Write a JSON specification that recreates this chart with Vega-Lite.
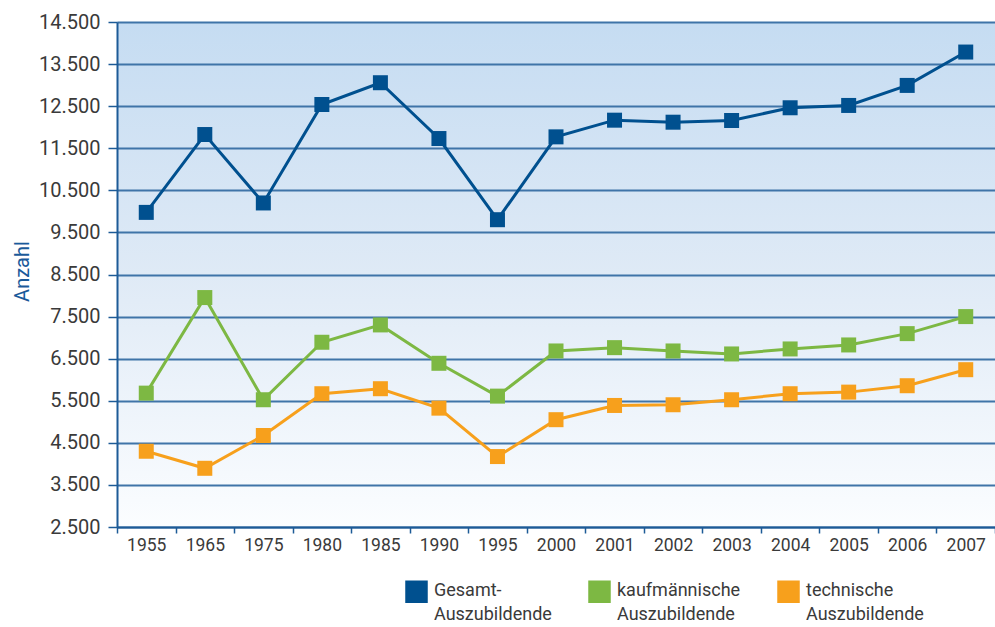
{
  "$schema": "https://vega.github.io/schema/vega-lite/v6.json",
  "width": 878,
  "height": 505,
  "autosize": {"type": "none"},
  "padding": {"left": 117, "top": 22, "right": 0, "bottom": 100},
  "background": "white",
  "config": {
    "font": "Roboto",
    "view": {
      "stroke": null,
      "fill": {"gradient": "linear", "x1": 0, "y1": 0, "x2": 0, "y2": 1,
        "stops": [{"offset": 0, "color": "#c5dcf2"}, {"offset": 0.5, "color": "#dfeaf6"}, {"offset": 1, "color": "#fbfdff"}]}
    },
    "axis": {
      "domainColor": "#1d5b97",
      "domainWidth": 2,
      "tickColor": "#1d5b97",
      "tickWidth": 1.5,
      "labelColor": "#3a3a3a",
      "labelFont": "Roboto",
      "labelFontWeight": "normal"
    }
  },
  "data": {
    "values": [
      {"Jahr": "1955", "Reihe": "Gesamt-Auszubildende", "Anzahl": 9976},
      {"Jahr": "1965", "Reihe": "Gesamt-Auszubildende", "Anzahl": 11826},
      {"Jahr": "1975", "Reihe": "Gesamt-Auszubildende", "Anzahl": 10200},
      {"Jahr": "1980", "Reihe": "Gesamt-Auszubildende", "Anzahl": 12540},
      {"Jahr": "1985", "Reihe": "Gesamt-Auszubildende", "Anzahl": 13057},
      {"Jahr": "1990", "Reihe": "Gesamt-Auszubildende", "Anzahl": 11731},
      {"Jahr": "1995", "Reihe": "Gesamt-Auszubildende", "Anzahl": 9802},
      {"Jahr": "2000", "Reihe": "Gesamt-Auszubildende", "Anzahl": 11771},
      {"Jahr": "2001", "Reihe": "Gesamt-Auszubildende", "Anzahl": 12167},
      {"Jahr": "2002", "Reihe": "Gesamt-Auszubildende", "Anzahl": 12119},
      {"Jahr": "2003", "Reihe": "Gesamt-Auszubildende", "Anzahl": 12160},
      {"Jahr": "2004", "Reihe": "Gesamt-Auszubildende", "Anzahl": 12462},
      {"Jahr": "2005", "Reihe": "Gesamt-Auszubildende", "Anzahl": 12517},
      {"Jahr": "2006", "Reihe": "Gesamt-Auszubildende", "Anzahl": 12993},
      {"Jahr": "2007", "Reihe": "Gesamt-Auszubildende", "Anzahl": 13786},
      {"Jahr": "1955", "Reihe": "kaufmännische Auszubildende", "Anzahl": 5681},
      {"Jahr": "1965", "Reihe": "kaufmännische Auszubildende", "Anzahl": 7952},
      {"Jahr": "1975", "Reihe": "kaufmännische Auszubildende", "Anzahl": 5524},
      {"Jahr": "1980", "Reihe": "kaufmännische Auszubildende", "Anzahl": 6890},
      {"Jahr": "1985", "Reihe": "kaufmännische Auszubildende", "Anzahl": 7302},
      {"Jahr": "1990", "Reihe": "kaufmännische Auszubildende", "Anzahl": 6390},
      {"Jahr": "1995", "Reihe": "kaufmännische Auszubildende", "Anzahl": 5610},
      {"Jahr": "2000", "Reihe": "kaufmännische Auszubildende", "Anzahl": 6683},
      {"Jahr": "2001", "Reihe": "kaufmännische Auszubildende", "Anzahl": 6762},
      {"Jahr": "2002", "Reihe": "kaufmännische Auszubildende", "Anzahl": 6683},
      {"Jahr": "2003", "Reihe": "kaufmännische Auszubildende", "Anzahl": 6612},
      {"Jahr": "2004", "Reihe": "kaufmännische Auszubildende", "Anzahl": 6731},
      {"Jahr": "2005", "Reihe": "kaufmännische Auszubildende", "Anzahl": 6826},
      {"Jahr": "2006", "Reihe": "kaufmännische Auszubildende", "Anzahl": 7095},
      {"Jahr": "2007", "Reihe": "kaufmännische Auszubildende", "Anzahl": 7500},
      {"Jahr": "1955", "Reihe": "technische Auszubildende", "Anzahl": 4300},
      {"Jahr": "1965", "Reihe": "technische Auszubildende", "Anzahl": 3895},
      {"Jahr": "1975", "Reihe": "technische Auszubildende", "Anzahl": 4674},
      {"Jahr": "1980", "Reihe": "technische Auszubildende", "Anzahl": 5667},
      {"Jahr": "1985", "Reihe": "technische Auszubildende", "Anzahl": 5786},
      {"Jahr": "1990", "Reihe": "technische Auszubildende", "Anzahl": 5324},
      {"Jahr": "1995", "Reihe": "technische Auszubildende", "Anzahl": 4174},
      {"Jahr": "2000", "Reihe": "technische Auszubildende", "Anzahl": 5050},
      {"Jahr": "2001", "Reihe": "technische Auszubildende", "Anzahl": 5388},
      {"Jahr": "2002", "Reihe": "technische Auszubildende", "Anzahl": 5405},
      {"Jahr": "2003", "Reihe": "technische Auszubildende", "Anzahl": 5524},
      {"Jahr": "2004", "Reihe": "technische Auszubildende", "Anzahl": 5667},
      {"Jahr": "2005", "Reihe": "technische Auszubildende", "Anzahl": 5705},
      {"Jahr": "2006", "Reihe": "technische Auszubildende", "Anzahl": 5857},
      {"Jahr": "2007", "Reihe": "technische Auszubildende", "Anzahl": 6238}
    ]
  },
  "encoding": {
    "x": {
      "field": "Jahr", "type": "ordinal",
      "scale": {"type": "band", "paddingInner": 0, "paddingOuter": 0},
      "axis": {
        "title": null, "tickBand": "extent", "labelAngle": 0,
        "labelFontSize": 17.5, "tickSize": 6, "labelPadding": 3,
        "grid": false
      }
    },
    "y": {
      "field": "Anzahl", "type": "quantitative",
      "scale": {"domain": [2500, 14500], "nice": false, "zero": false},
      "axis": {
        "title": "Anzahl",
        "titleColor": "#1a5a9a", "titleFontSize": 20, "titleFontWeight": "normal", "titleFont": "Roboto",
        "titleX": -95, "titleY": 249, "titleBaseline": "middle", "titleAngle": -90, "titleAlign": "center",
        "values": [2500, 3500, 4500, 5500, 6500, 7500, 8500, 9500, 10500, 11500, 12500, 13500, 14500],
        "labelExpr": "replace(format(datum.value, ','), ',', '.')",
        "labelFontSize": 20, "tickSize": 9, "labelPadding": 8,
        "grid": true, "gridColor": "#3f74a8", "gridWidth": 1.8, "gridOpacity": 1
      }
    },
    "color": {
      "field": "Reihe", "type": "nominal",
      "scale": {
        "domain": ["Gesamt-Auszubildende", "kaufmännische Auszubildende", "technische Auszubildende"],
        "range": ["#00508f", "#7db843", "#f7a01c"]
      },
      "legend": {
        "orient": "none", "legendX": 288, "legendY": 558,
        "direction": "horizontal", "columns": 3, "columnPadding": 34,
        "title": null, "padding": 0,
        "symbolType": "square", "symbolSize": 441, "symbolStrokeWidth": 1.5, "symbolStrokeColor": "#1a1a1a",
        "symbolOpacity": 1,
        "labelFont": "Roboto",
        "labelFontSize": 18, "labelColor": "#3a3a3a", "labelOffset": 6, "labelLimit": 0,
        "labelBaseline": "top",
        "labelExpr": "datum.label == 'Gesamt-Auszubildende' ? ['Gesamt-', 'Auszubildende'] : split(datum.label, ' ')",
        "encode": {
          "symbols": {"update": {"stroke": {"value": "#1a1a1a"}, "strokeWidth": {"value": 1.5}}},
          "labels": {"update": {"dy": {"value": -10}, "lineHeight": {"value": 24}}}
        }
      }
    }
  },
  "layer": [
    {"mark": {"type": "line", "strokeWidth": 3}},
    {"mark": {"type": "square", "size": 225, "opacity": 1, "filled": true}}
  ]
}
